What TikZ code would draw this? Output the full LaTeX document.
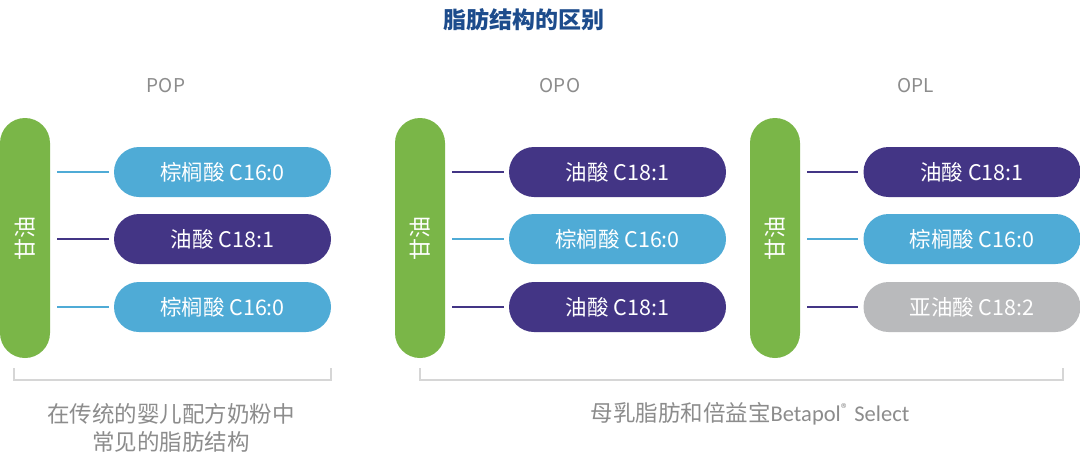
\documentclass[tikz,border=0pt]{standalone}
\usepackage{fontspec}
\setmainfont{Noto Sans CJK SC}
\newfontfamily\latinfont{Carlito}
\definecolor{lblue}{HTML}{4FABD6}
\definecolor{dpurple}{HTML}{433585}
\definecolor{lgreen}{HTML}{7AB648}
\definecolor{lgray}{HTML}{B9BABC}
\definecolor{tgray}{HTML}{8C8C8C}
\definecolor{tblue}{HTML}{1D4C8C}
\definecolor{bgray}{HTML}{D6D6D6}
\tikzset{
  bar/.style={fill=lgreen, draw=none, rounded corners=25pt, minimum width=50pt, minimum height=240pt, inner sep=0pt},
  bartext/.style={rotate=90, text=white, font=\fontsize{22pt}{24pt}\selectfont},
  pill/.style={draw=none, rounded corners=25pt, minimum width=217pt, minimum height=50pt, inner sep=0pt, text=white, font=\fontsize{21.5pt}{23pt}\selectfont},
  palm/.style={pill, fill=lblue},
  olei/.style={pill, fill=dpurple},
  lino/.style={pill, fill=lgray},
  conn/.style={line width=1.4pt},
  bracket/.style={draw=bgray, line width=1.2pt},
  label/.style={text=tgray, font=\fontsize{19pt}{21pt}\selectfont},
  caption/.style={text=tgray, font=\fontsize{22.5pt}{28pt}\selectfont, align=center},
}
\begin{document}
\begin{tikzpicture}[x=1pt,y=-1pt]
\useasboundingbox[fill=white] (0,0) rectangle (1080,469);
\node[text=tblue, font=\bfseries\fontsize{23pt}{25pt}\selectfont] (title) at (524,20) {脂肪结构的区别};
\node[label] (lpop) at (166,86) {POP};
\node[label] (lopo) at (560,86) {OPO};
\node[label] (lopl) at (916,86) {OPL};
% POP
\node[bar] (g1) at (25,238) {};
\node[bartext] (t1) at (g1) {甘油};
\node[palm] (p11) at (222.5,172) {棕榈酸 C16:0};
\node[olei] (p12) at (222.5,239) {油酸 C18:1};
\node[palm] (p13) at (222.5,307) {棕榈酸 C16:0};
\draw[conn, lblue] ([xshift=7pt]g1.east |- p11) -- ([xshift=-5pt]p11.west);
\draw[conn, dpurple] ([xshift=7pt]g1.east |- p12) -- ([xshift=-5pt]p12.west);
\draw[conn, lblue] ([xshift=7pt]g1.east |- p13) -- ([xshift=-5pt]p13.west);
% OPO
\node[bar] (g2) at (420,238) {};
\node[bartext] (t2) at (g2) {甘油};
\node[olei] (p21) at (617.5,172) {油酸 C18:1};
\node[palm] (p22) at (617.5,239) {棕榈酸 C16:0};
\node[olei] (p23) at (617.5,307) {油酸 C18:1};
\draw[conn, dpurple] ([xshift=7pt]g2.east |- p21) -- ([xshift=-5pt]p21.west);
\draw[conn, lblue] ([xshift=7pt]g2.east |- p22) -- ([xshift=-5pt]p22.west);
\draw[conn, dpurple] ([xshift=7pt]g2.east |- p23) -- ([xshift=-5pt]p23.west);
% OPL
\node[bar] (g3) at (775,238) {};
\node[bartext] (t3) at (g3) {甘油};
\node[olei] (p31) at (972,172) {油酸 C18:1};
\node[palm] (p32) at (972,239) {棕榈酸 C16:0};
\node[lino] (p33) at (972,307) {亚油酸 C18:2};
\draw[conn, dpurple] ([xshift=7pt]g3.east |- p31) -- ([xshift=-5pt]p31.west);
\draw[conn, lblue] ([xshift=7pt]g3.east |- p32) -- ([xshift=-5pt]p32.west);
\draw[conn, dpurple] ([xshift=7pt]g3.east |- p33) -- ([xshift=-5pt]p33.west);
% brackets
\draw[bracket] (14,368) -- (14,380) -- (331,380) -- (331,368);
\draw[bracket] (420,368) -- (420,380) -- (1063,380) -- (1063,368);
% captions
\node[caption] (c1) at (171,428) {在传统的婴儿配方奶粉中\\常见的脂肪结构};
\node[caption] (c2) at (750,414) {母乳脂肪和倍益宝{\latinfont Betapol\textsuperscript{®} Select}};
\end{tikzpicture}
\end{document}
